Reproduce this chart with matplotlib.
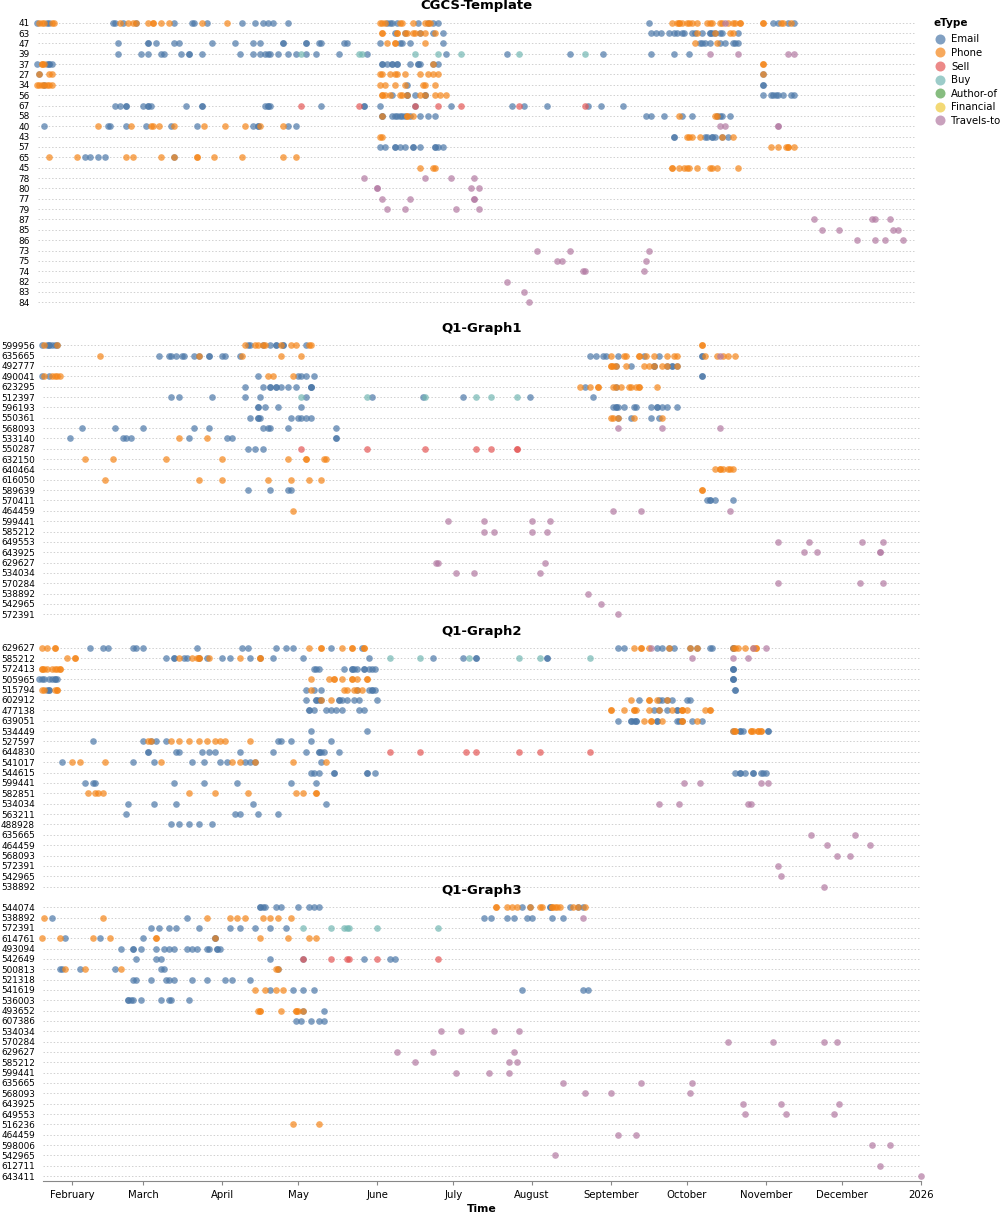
import numpy as np
import matplotlib
matplotlib.use("Agg")
import matplotlib.pyplot as plt
import matplotlib.dates as mdates
from matplotlib.lines import Line2D
from datetime import datetime

# values are day-of-year in 2025 (1 = Jan 1)

# ---------- CGCS-Template ----------
cgcs_rows = ["41", "63", "47", "39", "37", "27", "34", "56", "67", "58", "40", "43", "57", "65",
             "45", "78", "80", "77", "79", "87", "85", "86", "73", "75", "74", "82", "83", "84"]
cgcs_email = {
    "41": [20, 24, 25, 50, 51, 54, 59, 74, 81, 82, 87, 101, 106, 109, 111, 113, 119, 158, 159, 160,
           162, 170, 174, 176, 178, 261, 310, 312, 316, 318],
    "63": [161, 165, 171, 176, 180, 262, 264, 266, 269, 271, 272, 274, 275, 278, 279, 282, 285, 285,
           286, 287, 289, 290, 296],
    "47": [52, 64, 64, 67, 74, 76, 89, 98, 105, 108, 117, 117, 126, 126, 131, 132, 141, 142, 155, 163,
           164, 167, 180, 281, 282, 283, 285, 289, 291, 294, 295, 296],
    "39": [52, 61, 64, 69, 70, 77, 80, 80, 85, 100, 105, 108, 110, 111, 112, 115, 119, 122, 126, 130,
           139, 150, 181, 205, 230, 243, 262, 271, 277],
    "37": [20, 24, 25, 25, 26, 156, 156, 158, 160, 160, 162, 162, 167, 170, 170, 171, 176, 178],
    "27": [21, 306],
    "34": [23, 166, 306, 306],
    "56": [160, 166, 166, 169, 173, 173, 306, 309, 310, 311, 312, 314, 317, 318],
    "67": [51, 53, 55, 55, 62, 64, 64, 65, 79, 85, 85, 110, 111, 111, 112, 132, 149, 149, 155, 169,
           183, 207, 212, 221, 237, 242, 251],
    "58": [156, 156, 160, 161, 162, 163, 164, 165, 167, 171, 174, 177, 260, 262, 267, 274, 278, 288,
           289, 290, 293],
    "40": [23, 48, 49, 55, 63, 73, 83, 105, 107, 107, 119, 122],
    "43": [271, 271, 283, 284, 286, 286, 287, 290, 292],
    "57": [155, 157, 161, 161, 163, 165, 168, 168, 171, 177, 177, 178, 180],
    "65": [39, 41, 44, 47, 74],
}
cgcs_phone = {
    "41": [21, 22, 23, 26, 27, 53, 56, 58, 59, 64, 66, 66, 69, 72, 85, 95, 155, 156, 157, 163, 164,
           168, 173, 174, 175, 270, 272, 273, 273, 274, 276, 277, 278, 280, 284, 285, 286, 289, 290,
           292, 294, 295, 297, 297, 306, 306, 313, 314, 317],
    "63": [156, 156, 162, 162, 165, 166, 168, 169, 171, 173, 177, 280, 287, 293, 294],
    "47": [158, 161, 161, 173, 279, 288],
    "37": [22, 22, 23, 176, 306, 306],
    "27": [21, 25, 26, 155, 156, 159, 161, 162, 165, 171, 174, 176, 178, 306],
    "34": [20, 21, 22, 23, 24, 25, 26, 155, 157, 161, 165, 172, 173, 177],
    "56": [156, 156, 157, 159, 163, 164, 166, 171, 173, 177, 179, 181],
    "58": [156, 166, 166, 168, 273, 287, 288],
    "40": [44, 57, 65, 66, 68, 74, 86, 94, 102, 108, 117],
    "43": [155, 156, 276, 277, 278, 281, 290, 294],
    "57": [309, 312, 315, 316, 316, 318],
    "65": [25, 36, 55, 58, 69, 74, 83, 83, 90, 101, 117, 122],
    "45": [171, 176, 177, 270, 270, 273, 275, 276, 277, 280, 285, 286, 288, 296],
}
cgcs_sell = {"67": [124, 147, 169, 178, 187, 210, 236]}
cgcs_buy = {"39": [124, 147, 148, 169, 178, 187, 210, 236]}
cgcs_travel = {
    "41": [291], "39": [285, 296, 316, 318], "40": [289, 291, 312, 312],
    "78": [149, 173, 183, 192], "80": [154, 154, 191, 194], "77": [156, 167, 192, 192],
    "79": [158, 165, 185, 194], "87": [326, 349, 350, 356], "85": [329, 336, 357, 359],
    "86": [343, 350, 354, 361], "73": [217, 230, 261], "75": [225, 227, 260],
    "74": [235, 236, 259], "82": [205], "83": [212], "84": [214],
}

# ---------- Q1-Graph1 ----------
g1_rows = ["599956", "635665", "492777", "490041", "623295", "512397", "596193", "550361", "568093",
           "533140", "550287", "632150", "640464", "616050", "589639", "570411", "464459", "599441",
           "585212", "649553", "643925", "629627", "534034", "570284", "538892", "542965", "572391"]
g1_email = {
    "599956": [20, 22, 23, 23, 24, 25, 26, 101, 102, 107, 110, 112, 112, 115, 115, 124],
    "635665": [66, 70, 71, 73, 75, 76, 80, 82, 86, 86, 91, 92, 98, 236, 238, 241, 242, 247, 257, 263,
               280, 280],
    "492777": [246, 252, 261, 261, 266, 268, 268, 270],
    "490041": [20, 23, 105, 121, 122, 124, 127, 280, 280],
    "623295": [100, 107, 110, 110, 112, 112, 114, 117, 120, 126, 126, 126, 234, 246],
    "512397": [71, 74, 87, 100, 106, 124, 150, 170, 186, 212, 237],
    "596193": [105, 105, 108, 113, 122, 245, 246, 246, 247, 249, 253, 254, 260, 262, 262, 264, 266, 270],
    "550361": [102, 105, 105, 106, 118, 121, 122, 124, 126, 247, 252, 260, 263],
    "568093": [36, 49, 60, 80, 86, 107, 109, 110, 117, 136],
    "533140": [31, 52, 53, 55, 78, 93, 95, 136, 136],
    "550287": [101, 104, 107],
    "589639": [101, 110, 117, 118],
    "570411": [282, 283, 283, 285, 292],
}
g1_phone = {
    "599956": [21, 26, 100, 104, 105, 107, 108, 114, 118, 120, 125, 126, 280, 280],
    "635665": [43, 82, 99, 114, 122, 244, 249, 250, 255, 255, 258, 261, 266, 269, 270, 281, 286, 288,
               290, 293],
    "492777": [244, 244, 245, 246, 250, 257, 259, 261, 264, 266, 270],
    "490041": [21, 24, 25, 26, 27, 109, 111, 119],
    "623295": [232, 236, 239, 239, 245, 246, 248, 251, 252, 254, 255, 255, 262],
    "550361": [244, 245, 247, 253, 264],
    "533140": [74, 85],
    "632150": [37, 48, 69, 91, 117, 124, 124, 131, 132],
    "640464": [285, 287, 287, 288, 290, 291, 292],
    "616050": [45, 82, 91, 109, 118, 125, 130],
    "589639": [280, 280],
    "464459": [119],
}
g1_sell = {"550287": [122, 148, 171, 191, 197, 207, 207]}
g1_buy = {"512397": [122, 148, 171, 191, 197, 207]}
g1_travel = {
    "635665": [287], "568093": [247, 264, 287], "464459": [245, 256, 291],
    "599441": [180, 194, 213, 220], "585212": [194, 198, 213, 219],
    "649553": [310, 322, 343, 351], "643925": [320, 325, 350, 350],
    "629627": [175, 176, 218], "534034": [183, 190, 216], "570284": [310, 342, 351],
    "538892": [235], "542965": [240], "572391": [247],
}

# ---------- Q1-Graph2 ----------
g2_rows = ["629627", "585212", "572413", "505965", "515794", "602912", "477138", "639051", "534449",
           "527597", "644830", "541017", "544615", "599441", "582851", "534034", "563211", "488928",
           "635665", "464459", "568093", "572391", "542965", "538892"]
g2_email = {
    "629627": [39, 44, 46, 56, 57, 60, 81, 99, 101, 112, 116, 119, 134, 146, 247, 249, 262, 264, 267,
               269, 275, 278, 283, 284, 292, 292],
    "585212": [69, 72, 72, 76, 77, 82, 85, 91, 94, 102, 106, 111, 123, 149, 174, 186, 191, 191, 219, 219],
    "572413": [127, 128, 129, 139, 142, 142, 143, 144, 147, 147, 149, 150, 151, 292, 292, 292],
    "505965": [19, 20, 21, 23, 24, 25, 25, 26, 292, 292, 292],
    "515794": [22, 23, 23, 124, 127, 130, 144, 149, 150, 150, 151, 293, 293],
    "602912": [124, 128, 128, 129, 130, 137, 137, 138, 140, 143, 145, 152, 255, 263, 264, 266, 268,
               274, 275],
    "477138": [125, 125, 127, 132, 134, 136, 138, 145, 147, 261, 263, 266, 270, 270],
    "639051": [247, 252, 252, 253, 254, 254, 262, 262, 270, 271, 272, 276, 280],
    "534449": [126, 148, 292, 295, 295, 296, 306, 306],
    "527597": [40, 60, 63, 65, 69, 113, 114, 118, 126, 134],
    "644830": [62, 62, 73, 74, 83, 86, 88, 98, 111, 124, 129, 129, 130, 131, 137],
    "541017": [28, 56, 64, 79, 84, 90, 93, 100, 102, 104, 130],
    "544615": [126, 127, 129, 135, 135, 148, 148, 151, 293, 295, 295, 297, 300, 300, 303, 304, 305],
    "599441": [37, 40, 41, 72, 84, 97, 118, 128],
    "534034": [54, 64, 73, 103, 132],
    "563211": [53, 96, 98, 105, 113],
    "488928": [71, 74, 78, 82, 87],
}
g2_phone = {
    "629627": [20, 22, 25, 25, 125, 130, 130, 138, 142, 142, 147, 147, 253, 256, 256, 259, 267, 275,
               278, 292, 293, 294, 297, 300, 301, 301],
    "585212": [30, 33, 33, 74, 79, 81, 82, 82, 86, 98, 106, 106],
    "572413": [20, 20, 21, 22, 24, 25, 26, 27, 27],
    "505965": [126, 133, 135, 135, 138, 142, 142, 144, 148, 148],
    "515794": [20, 21, 25, 26, 26, 126, 139, 140, 143, 144, 146],
    "602912": [130, 134, 252, 259, 259, 262, 266],
    "477138": [244, 244, 249, 253, 253, 254, 259, 263, 268, 272, 272, 272, 274, 281, 283, 283],
    "639051": [257, 260, 260, 264, 272, 272, 278],
    "534449": [292, 293, 293, 299, 299, 300, 302, 302, 303, 303],
    "527597": [62, 63, 71, 74, 78, 82, 85, 88, 90, 92, 102],
    "541017": [32, 35, 45, 67, 95, 98, 104, 119, 132],
    "582851": [38, 41, 42, 44, 78, 88, 101, 120, 123, 128, 128],
}
g2_sell = {"644830": [157, 169, 187, 191, 208, 216, 236]}
g2_buy = {"585212": [157, 169, 188, 208, 216, 236]}
g2_travel = {
    "629627": [260, 300, 305], "585212": [276, 292, 298], "599441": [273, 279, 303, 306],
    "534034": [263, 271, 298, 299], "635665": [323, 340], "464459": [329, 346],
    "568093": [333, 338], "572391": [310], "542965": [311], "538892": [328],
}

# ---------- Q1-Graph3 ----------
g3_rows = ["544074", "538892", "572391", "614761", "493094", "542649", "500813", "521318", "541619",
           "536003", "493652", "607386", "534034", "570284", "629627", "585212", "599441", "635665",
           "568093", "643925", "649553", "516236", "464459", "598006", "542965", "612711", "643411"]
g3_email = {
    "544074": [106, 106, 107, 108, 112, 114, 121, 125, 127, 129, 209, 212, 220, 220, 228, 231, 233],
    "538892": [24, 77, 194, 197, 203, 206, 211, 213, 221, 225],
    "572391": [63, 66, 70, 73, 82, 94, 98, 104, 110, 116],
    "614761": [29, 43, 60, 88, 88],
    "493094": [51, 56, 56, 59, 65, 68, 70, 72, 77, 79, 81, 85, 86, 89, 89, 90],
    "542649": [57, 65, 67, 110, 123, 147, 157, 159],
    "500813": [27, 28, 35, 49, 67, 68, 113],
    "521318": [56, 57, 63, 69, 70, 72, 79, 85, 92, 95, 102],
    "541619": [110, 119, 123, 127, 209, 233, 235],
    "536003": [54, 54, 55, 56, 59, 67, 70, 71, 78],
    "493652": [123, 131],
    "607386": [120, 122, 126, 129, 131],
}
g3_phone = {
    "544074": [199, 199, 203, 205, 207, 212, 216, 217, 221, 221, 222, 223, 224, 229, 231, 234],
    "538892": [21, 44, 85, 94, 97, 100, 107, 110, 113, 118],
    "614761": [20, 27, 40, 47, 65, 65, 88, 106, 117, 125, 128],
    "500813": [29, 37, 51, 112, 113],
    "541619": [104, 108, 112, 115],
    "493652": [105, 106, 106, 114, 120, 120, 121, 123],
    "516236": [119, 129],
}
g3_sell = {"542649": [123, 134, 140, 141, 152, 176]}
g3_buy = {"572391": [123, 134, 139, 140, 141, 152, 176]}
g3_travel = {
    "538892": [233], "534034": [177, 185, 198, 208], "570284": [290, 308, 328, 333],
    "629627": [160, 174, 206], "585212": [167, 204, 207], "599441": [183, 196, 204],
    "635665": [225, 256, 276], "568093": [234, 244, 275], "643925": [296, 311, 334],
    "649553": [297, 313, 332], "464459": [247, 254], "598006": [347, 354],
    "542965": [222], "612711": [350], "643411": [366],
}

etypes = ["Email", "Phone", "Sell", "Buy", "Author-of", "Financial", "Travels-to"]
colors = ["#4c78a8", "#f58518", "#e45756", "#72b7b2", "#54a24b", "#eeca3b", "#b279a2"]

W, H = 1000, 1213
fig = plt.figure(figsize=(W / 100, H / 100), dpi=100)
day0 = mdates.date2num(datetime(2024, 12, 31))


def px_axes(x0, y0, x1, y1):
    return fig.add_axes([x0 / W, 1 - y1 / H, (x1 - x0) / W, (y1 - y0) / H])


facets = [
    ("CGCS-Template", cgcs_rows, [cgcs_email, cgcs_phone, cgcs_sell, cgcs_buy, {}, {}, cgcs_travel],
     (37.5, 17.5, 915.5, 307.5)),
    ("Q1-Graph1", g1_rows, [g1_email, g1_phone, g1_sell, g1_buy, {}, {}, g1_travel],
     (42.7, 340.1, 920.7, 619.5)),
    ("Q1-Graph2", g2_rows, [g2_email, g2_phone, g2_sell, g2_buy, {}, {}, g2_travel],
     (42.7, 642.8, 920.7, 891.9)),
    ("Q1-Graph3", g3_rows, [g3_email, g3_phone, g3_sell, g3_buy, {}, {}, g3_travel],
     (42.7, 902.1, 920.7, 1181.2)),
]

for k, (title, rows, series, box) in enumerate(facets):
    ax = px_axes(*box)
    n = len(rows)
    for data, col in zip(series, colors):
        xs, ys = [], []
        for r, days in data.items():
            xs.extend(day0 + np.asarray(days, float))
            ys.extend([rows.index(r)] * len(days))
        if xs:
            ax.scatter(xs, ys, s=23, color=col, alpha=0.7, linewidths=0, zorder=3, clip_on=False)
    ax.set_xlim(day0 + 20.35, day0 + 366.0)
    ax.set_ylim(n - 0.5, -0.5)
    ax.set_yticks(range(n))
    ax.set_yticklabels(rows)
    ax.tick_params(axis="y", length=0, pad=5.5, labelsize=6.4)
    ax.grid(axis="y", color="#d0d0d0", linestyle=(0, (1.5, 2)), linewidth=0.7)
    ax.set_axisbelow(True)
    for s in ax.spines.values():
        s.set_visible(False)
    x0, y0, x1, y1 = box
    fig.text((x0 + x1) / 2 / W, 1 - (y0 - 11.5) / H, title, ha="center", va="center",
             fontsize=9.5, fontweight="bold")
    if k == len(facets) - 1:
        ax.spines["bottom"].set_visible(True)
        ax.spines["bottom"].set_color("#888888")
        ax.spines["bottom"].set_linewidth(0.8)
        ax.xaxis.set_major_locator(mdates.MonthLocator())
        ax.xaxis.set_major_formatter(
            plt.FuncFormatter(lambda v, p: mdates.num2date(v).strftime("%Y" if mdates.num2date(v).month == 1 else "%B")))
        ax.tick_params(axis="x", length=3, width=0.8, color="#888888", pad=3, labelsize=7.3)
    else:
        ax.set_xticks([])

fig.text(481.7 / W, 1 - 1209 / H, "Time", ha="center", va="center", fontsize=7.8, fontweight="bold")

# legend
handles = [Line2D([], [], marker="o", linestyle="", markersize=7.2, markerfacecolor=c,
                  markeredgewidth=0, alpha=0.7) for c in colors]
fig.legend(handles, etypes, loc="upper left", bbox_to_anchor=(935 / W, 1 - 34.5 / H),
           frameon=False, fontsize=7.3, borderpad=0, borderaxespad=0, handlelength=1.0,
           handletextpad=0.57, labelspacing=0.35)
fig.text(934 / W, 1 - 23 / H, "eType", ha="left", va="center", fontsize=7.5, fontweight="bold")

fig.savefig("out.png", dpi=100)
